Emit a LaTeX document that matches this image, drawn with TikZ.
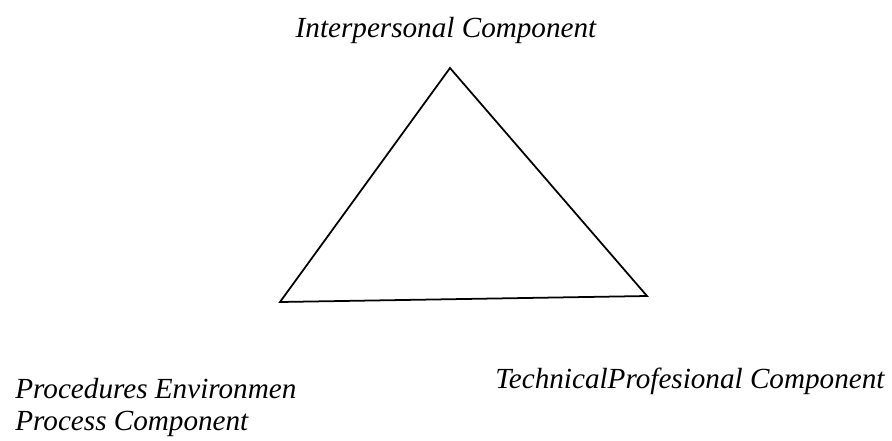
\documentclass[tikz,border=0pt]{standalone}
\usepackage{fontspec}
\setmainfont{Liberation Serif}
\begin{document}
\begin{tikzpicture}[
  x=0.02cm, y=-0.02cm,
  every node/.style = {font=\fontsize{16.6}{18.1}\selectfont\itshape, inner sep=0pt},
  side/.style = {line width=1pt}
]
  \useasboundingbox (0,0) rectangle (892,440);
  \coordinate (apex) at (450,68);
  \coordinate (left) at (280,302);
  \coordinate (right) at (647,296);
  \draw[side] (apex) -- (right) -- (left) -- cycle;
  \node[anchor=base] (inter) at (446,37) {Interpersonal Component};
  \node[anchor=base west, align=left] (proc) at (15,430) {Procedures Environmen\\Process Component};
  \node[anchor=base west] (tech) at (495,388) {TechnicalProfesional Component};
\end{tikzpicture}
\end{document}
